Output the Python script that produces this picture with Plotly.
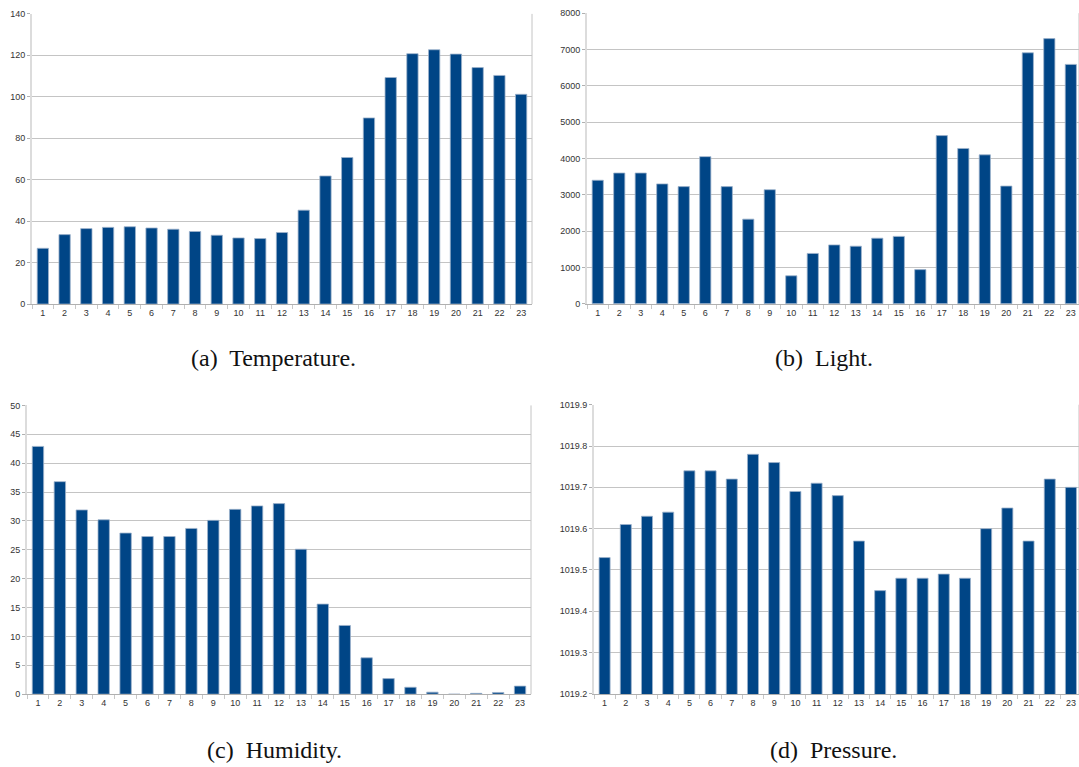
import plotly.graph_objects as go

# Hours of the day (x categories) shared by all four panels
hours = [str(h) for h in range(1, 24)]

temperature = [26.9, 33.5, 36.4, 37.0, 37.3, 36.7, 36.1, 35.0, 33.2, 31.9, 31.6, 34.5,
               45.3, 61.8, 70.7, 89.8, 109.3, 120.8, 122.7, 120.6, 114.1, 110.3, 101.2]
light = [3400, 3600, 3600, 3300, 3225, 4050, 3225, 2330, 3140, 770, 1385, 1620,
         1585, 1805, 1855, 940, 4630, 4275, 4100, 3240, 6910, 7300, 6590]
humidity = [42.9, 36.8, 31.9, 30.2, 27.9, 27.3, 27.3, 28.7, 30.1, 32.0, 32.6, 33.0,
            25.1, 15.6, 11.9, 6.3, 2.7, 1.2, 0.35, 0.0, 0.15, 0.3, 1.4]
pressure = [1019.53, 1019.61, 1019.63, 1019.64, 1019.74, 1019.74, 1019.72, 1019.78,
            1019.76, 1019.69, 1019.71, 1019.68, 1019.57, 1019.45, 1019.48, 1019.48,
            1019.49, 1019.48, 1019.60, 1019.65, 1019.57, 1019.72, 1019.70]

captions = ["(a)  Temperature.", "(b)  Light.", "(c)  Humidity.", "(d)  Pressure."]

W, H = 1079, 767
BAR = "#004586"
EDGE = "#9db3cc"
GRID = "#c4c4c4"
TICKFONT = dict(family="Liberation Sans, Arial, sans-serif", size=9, color="#333333")


def px_x(v):
    return v / W


def px_y(v):
    return 1 - v / H


# panel boxes in pixels: left, right, top, bottom ; y range ; dtick ; x range end
panels = [
    dict(l=32, r=532, t=9, b=303, y=temperature, yr=[0, 140], dt=20, xe=22.5, fmt=""),
    dict(l=587, r=1079, t=8.3, b=302.7, y=light, yr=[0, 8000], dt=1000, xe=22.38, fmt=""),
    dict(l=27, r=531, t=405.7, b=698.3, y=humidity, yr=[0, 50], dt=5, xe=22.5, fmt=""),
    dict(l=594, r=1079, t=405, b=698, y=pressure, yr=[1019.2, 1019.9], dt=0.1, xe=22.38, fmt=".1f"),
]

fig = go.Figure()
layout = dict(
    width=W, height=H, margin=dict(l=0, r=0, t=0, b=0),
    paper_bgcolor="white", plot_bgcolor="white",
    showlegend=False, bargap=0.48,
)

shapes = []
for i, p in enumerate(panels, start=1):
    xa = "x" if i == 1 else f"x{i}"
    ya = "y" if i == 1 else f"y{i}"
    fig.add_trace(go.Bar(
        x=hours, y=p["y"], xaxis=xa, yaxis=ya,
        marker=dict(color=BAR, line=dict(color=EDGE, width=0.8)),
        hoverinfo="x+y",
    ))
    layout[f"xaxis{'' if i == 1 else i}"] = dict(
        domain=[px_x(p["l"]), px_x(p["r"])], anchor=ya,
        type="category", range=[-0.5, p["xe"]],
        showgrid=False, showline=True, linecolor="#b0b0b0", linewidth=1,
        ticks="outside", tickson="boundaries", ticklen=4, tickcolor="#c8c8c8",
        tickfont=TICKFONT, fixedrange=True, zeroline=False,
    )
    layout[f"yaxis{'' if i == 1 else i}"] = dict(
        domain=[px_y(p["b"]), px_y(p["t"])], anchor=xa,
        range=p["yr"], dtick=p["dt"], tick0=p["yr"][0], tickformat=p["fmt"],
        showgrid=True, gridcolor=GRID, gridwidth=1,
        showline=True, linecolor="#dcdcdc", linewidth=2,
        ticks="outside", ticklen=3, tickcolor="#b0b0b0",
        tickfont=TICKFONT, fixedrange=True, zeroline=False,
    )
    # right-hand frame line of the plot area
    shapes.append(dict(type="line", xref=f"{xa} domain", yref=f"{ya} domain",
                       x0=1, x1=1, y0=0, y1=1, line=dict(color=GRID, width=1)))

layout["shapes"] = shapes

cap_pos = [(273, 358), (824, 358), (274, 755), (833, 755)]
layout["annotations"] = [
    dict(text=c, x=px_x(cx), y=px_y(cy), xref="paper", yref="paper",
         xanchor="center", yanchor="middle", showarrow=False,
         font=dict(family="Liberation Serif, Times New Roman, serif", size=24, color="#111111"))
    for c, (cx, cy) in zip(captions, cap_pos)
]

fig.update_layout(**layout)
fig.write_html("out.html")
